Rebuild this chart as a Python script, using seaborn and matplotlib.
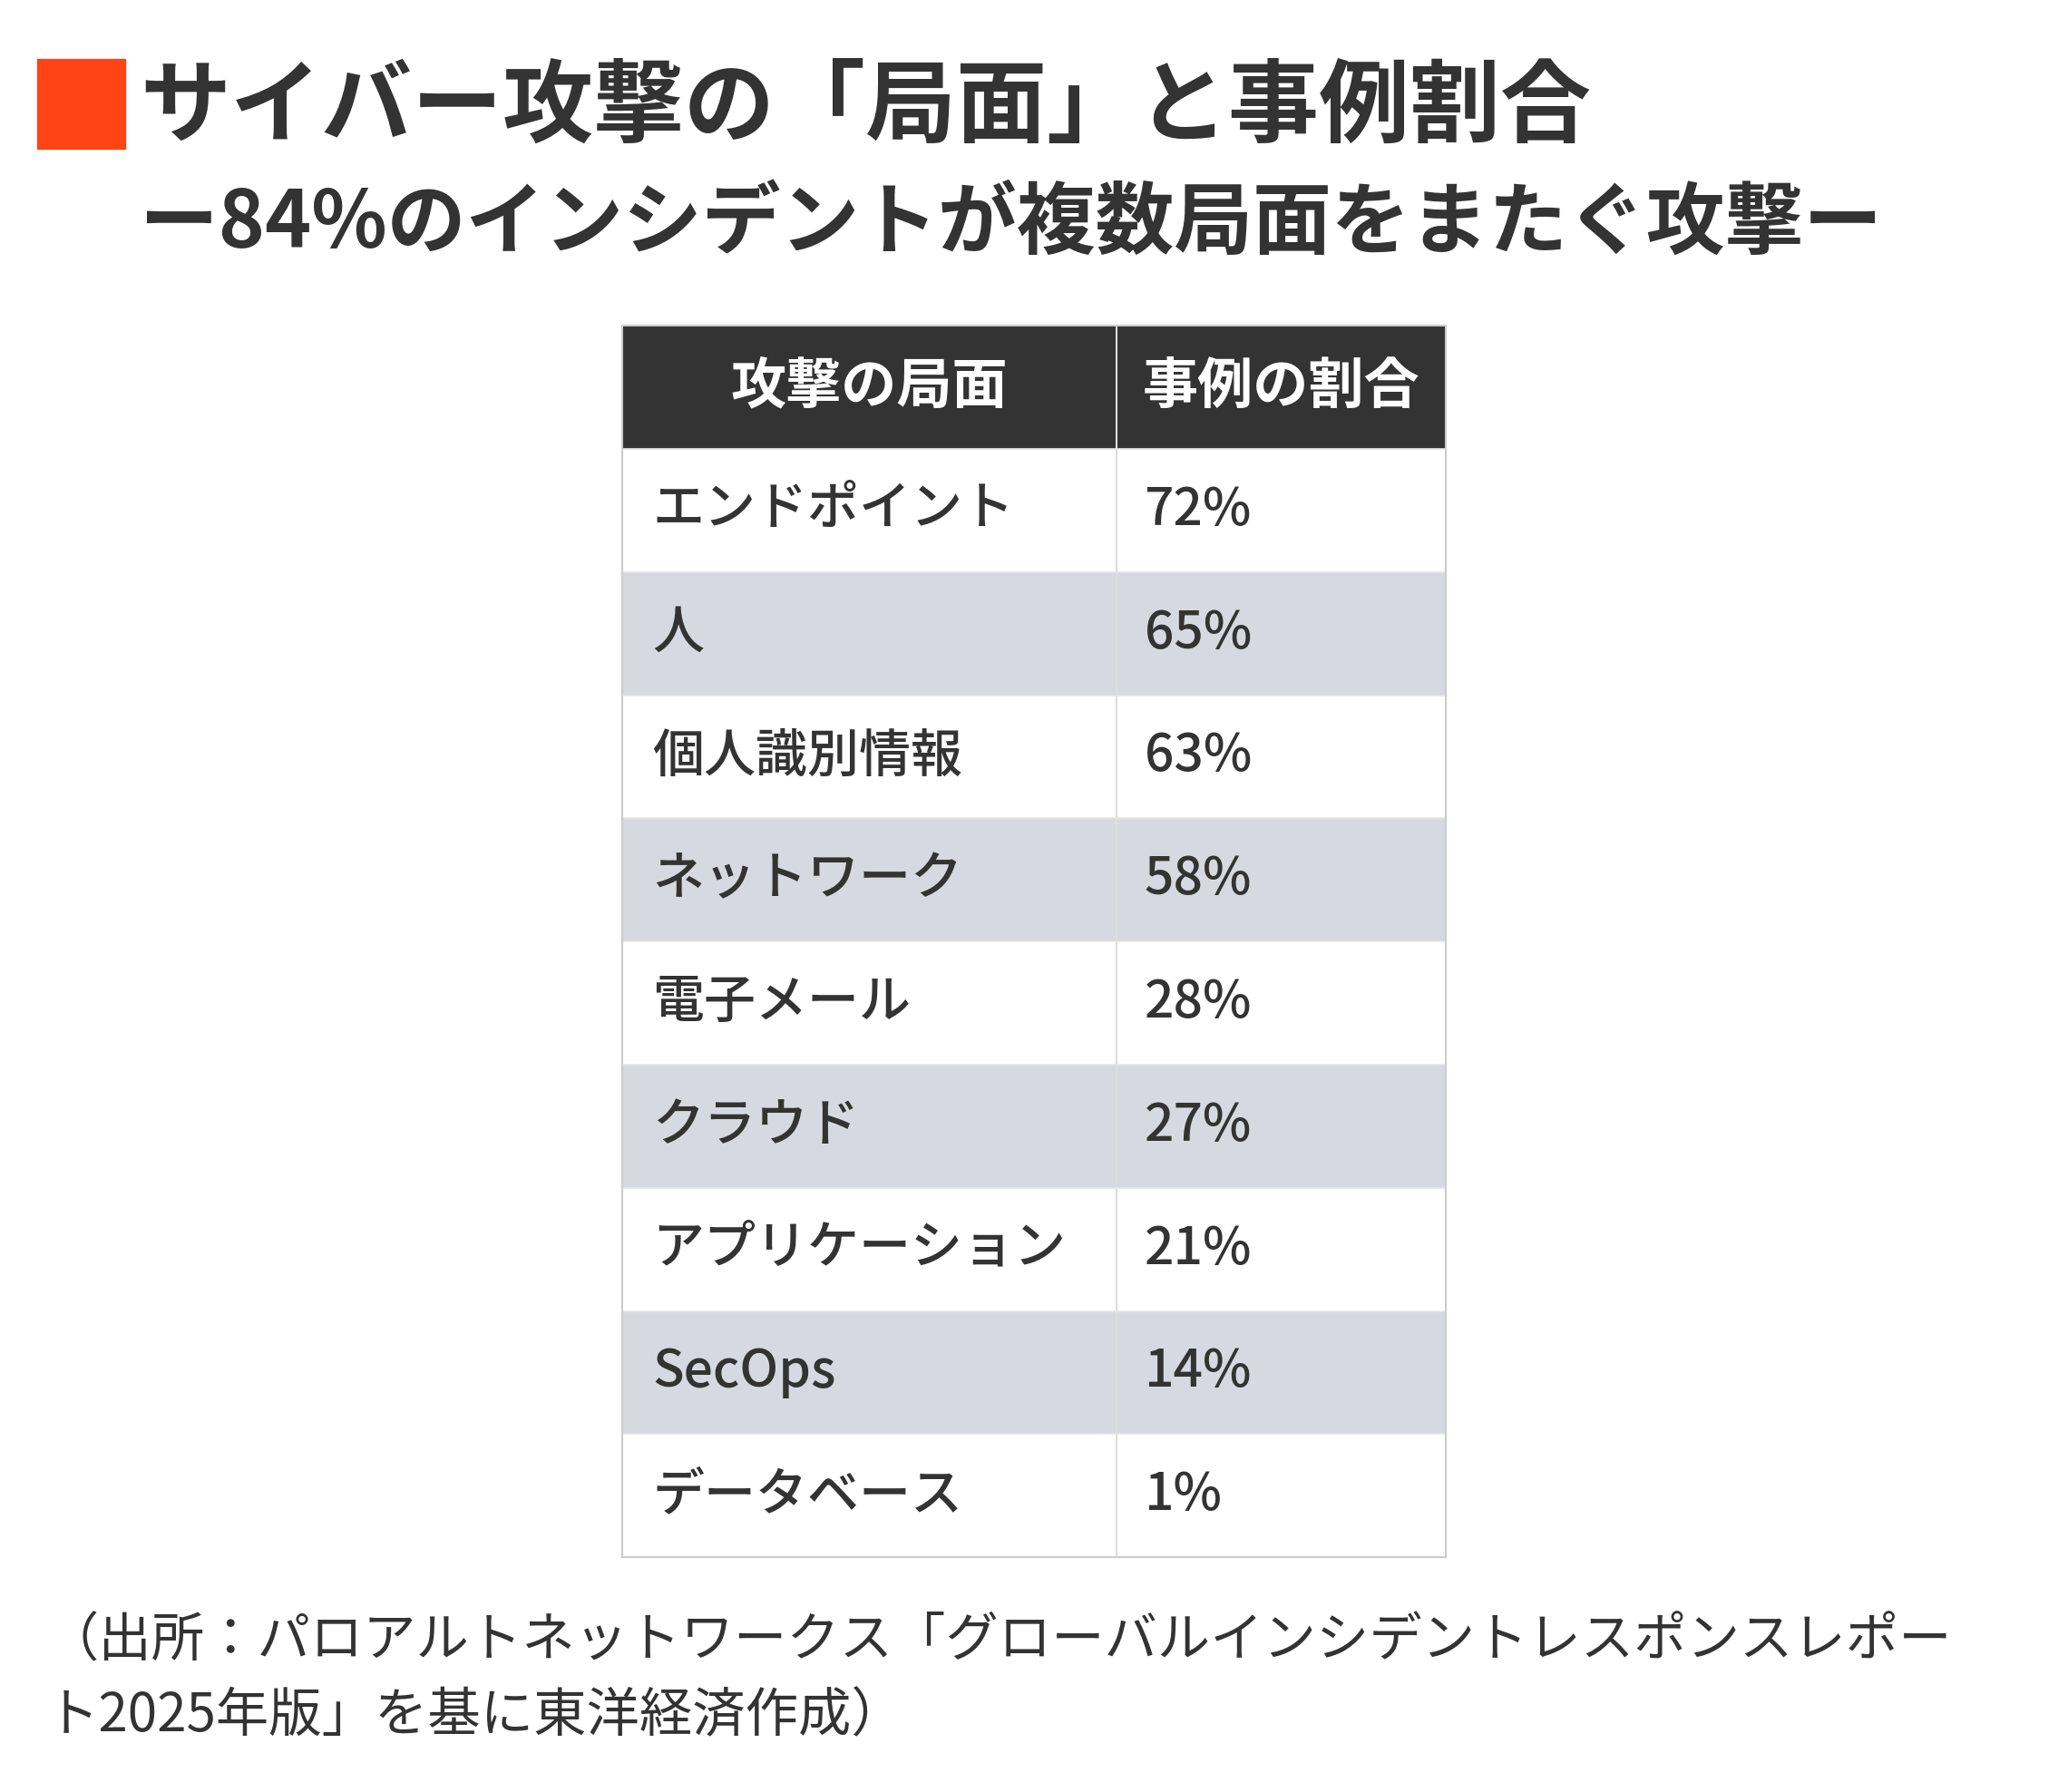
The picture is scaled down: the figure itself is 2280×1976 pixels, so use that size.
import numpy as np
import matplotlib
matplotlib.use("Agg")
import matplotlib.pyplot as plt
from matplotlib.colors import ListedColormap
import seaborn as sns

title = "サイバー攻撃の「局面」と事例割合"
subtitle = "ー84%のインシデントが複数局面をまたぐ攻撃ー"
headers = ["攻撃の局面", "事例の割合"]
categories = ["エンドポイント", "人", "個人識別情報", "ネットワーク", "電子メール",
              "クラウド", "アプリケーション", "SecOps", "データベース"]
shares = [72, 65, 63, 58, 28, 27, 21, 14, 1]
source = ["（出所：パロアルトネットワークス「グローバルインシデントレスポンスレポー",
          "ト2025年版」を基に東洋経済作成）"]

FONT = "Noto Sans CJK JP"
plt.rcParams["font.family"] = FONT
sns.set_theme(style="white", rc={"font.family": FONT})

W, H = 1568, 1359
fig = plt.figure(figsize=(22.8, 19.76), dpi=100)
fig.patch.set_facecolor("white")

def fx(x): return x / W
def fy(y): return 1 - y / H

fig.patches.append(plt.Rectangle((fx(28), fy(113)), fx(95) - fx(28), fy(45) - fy(113),
                                 transform=fig.transFigure, color="#ff4415"))
fig.text(fx(106), fy(82), title, fontsize=72, fontweight="bold", color="#333333", va="center")
fig.text(fx(106), fy(170), subtitle, fontsize=62.5, fontweight="bold", color="#333333", va="center")

nrows = len(categories) + 1
ncols = 5
mat = np.zeros((nrows, ncols))
mat[0, :] = 2
for i in range(len(categories)):
    mat[i + 1, :] = 0 if i % 2 == 0 else 1
cmap = ListedColormap(["#ffffff", "#d6d9e0", "#333333"])
ax = fig.add_axes([fx(472), fy(1181), fx(1096) - fx(472), fy(247) - fy(1181)])
sns.heatmap(mat, ax=ax, cmap=cmap, vmin=-0.5, vmax=2.5, cbar=False,
            xticklabels=False, yticklabels=False, linewidths=0)
ax.axvline(3, color="#dddddd", lw=1.5)
for r in range(1, nrows):
    ax.axhline(r, color="#e6e6e6", lw=1.2)
for s in ax.spines.values():
    s.set_visible(True)
    s.set_color("#cccccc")
    s.set_linewidth(1.5)

ax.text(1.5, 0.5, headers[0], color="white", fontsize=44, fontweight="bold", ha="center", va="center")
ax.text(4.0, 0.5, headers[1], color="white", fontsize=44, fontweight="bold", ha="center", va="center")
for i, (c, v) in enumerate(zip(categories, shares)):
    ax.text(0.18, i + 1.5, c, color="#333333", fontsize=41, fontweight="medium", ha="left", va="center")
    ax.text(3.17, i + 1.5, f"{v}%", color="#333333", fontsize=41, fontweight="medium", ha="left", va="center")

fig.text(fx(35), fy(1245), source[0], fontsize=42, color="#333333", va="center")
fig.text(fx(35), fy(1302), source[1], fontsize=42, color="#333333", va="center")

fig.savefig("out.png", dpi=100, facecolor="white")
